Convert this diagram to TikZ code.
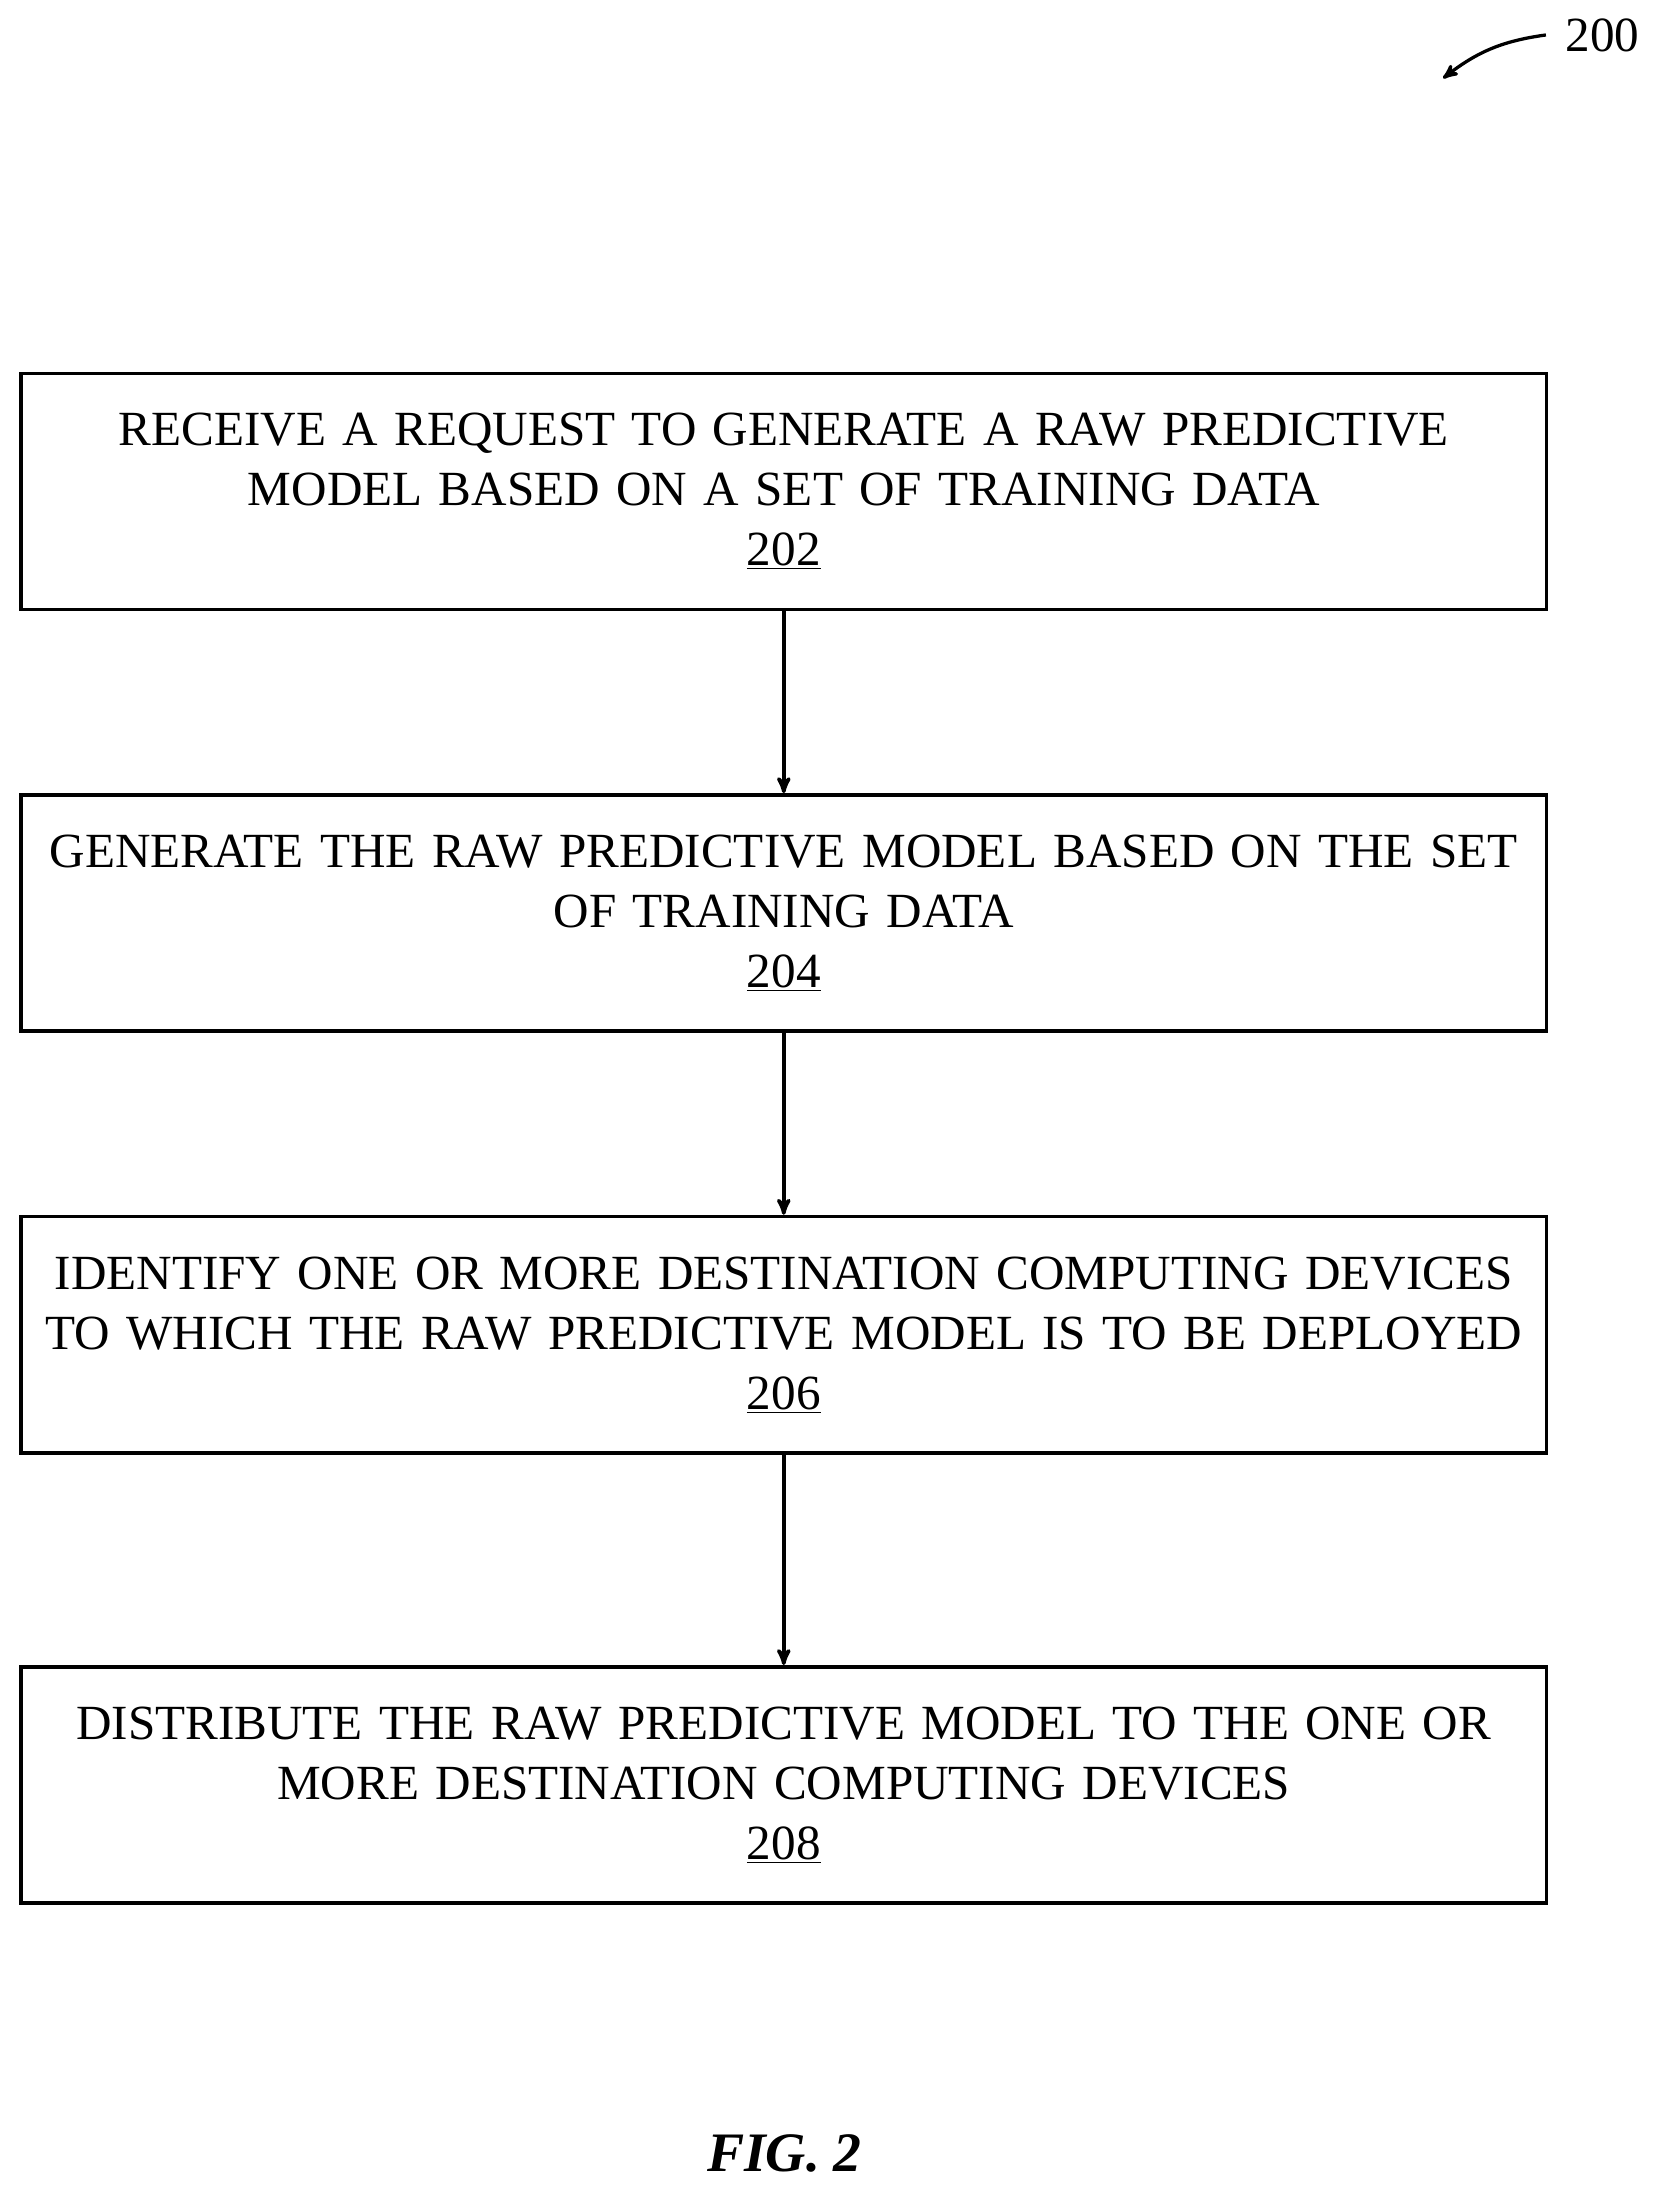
\documentclass[tikz,border=0pt]{standalone}
\usepackage{fontspec}
\setmainfont{Liberation Serif}
\usetikzlibrary{arrows,positioning}
\tikzset{
	%Define standard arrow tip
	>=stealth',
	%Define style for boxes
	stepbox/.style={
		rectangle,
		draw=black, line width=2.2pt,
		text width=32.4cm,
		minimum width=32.73cm,
		minimum height=5.07cm,
		inner sep=0pt,
		align=center,
		font=\fontsize{30}{36.6}\selectfont},
	% Define arrow style
	flow/.style={
		->,
		line width=2.2pt}
}
\begin{document}
\begin{tikzpicture}[x=0.03cm,y=-0.03cm]
	\useasboundingbox (0,0) rectangle (1190,1574);
	
	\node[stepbox] (receive) at (560.5,351.5) {RECEIVE A REQUEST TO GENERATE A RAW PREDICTIVE\\MODEL BASED ON A SET OF TRAINING DATA\\\underline{202}};
	\node[stepbox] (generate) at (560.5,653) {GENERATE THE RAW PREDICTIVE MODEL BASED ON THE SET\\OF TRAINING DATA\\\underline{204}};
	\node[stepbox] (identify) at (560.5,954.5) {IDENTIFY ONE OR MORE DESTINATION COMPUTING DEVICES\\TO WHICH THE RAW PREDICTIVE MODEL IS TO BE DEPLOYED\\\underline{206}};
	\node[stepbox] (distribute) at (560.5,1276.5) {DISTRIBUTE THE RAW PREDICTIVE MODEL TO THE ONE OR\\MORE DESTINATION COMPUTING DEVICES\\\underline{208}};
	
	\draw[flow] (receive) -- (generate);
	\draw[flow] (generate) -- (identify);
	\draw[flow] (identify) -- (distribute);
	
	\node[font=\fontsize{30}{34}\selectfont] (ref) at (1146,25) {200};
	\coordinate (refend) at (1032,56);
	\draw[->,line width=2pt] ([xshift=-0.3cm]ref.west) to[bend right=15] (refend);
	
	\node[font=\fontsize{34}{38}\selectfont\bfseries\itshape] (fig) at (561,1540) {FIG. 2};
\end{tikzpicture}
\end{document}
